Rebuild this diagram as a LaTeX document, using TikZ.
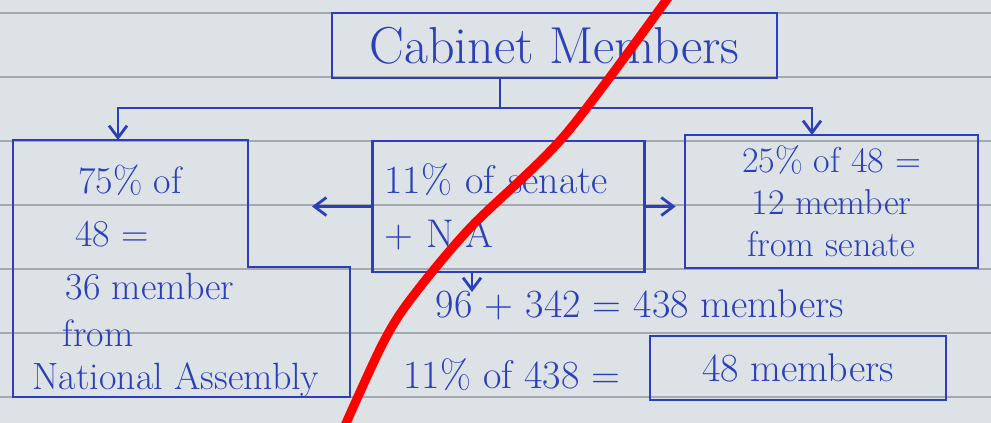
\documentclass[tikz,border=0pt]{standalone}
\usepackage{tikz}
\usetikzlibrary{arrows.meta}
\usepackage{xcolor}
\definecolor{ink}{HTML}{2B3FB8}
\definecolor{paper}{HTML}{DDE2E6}
\definecolor{rule}{HTML}{A3A9AE}
\tikzset{
  >={Straight Barb[length=6pt,width=9pt]},
  pen/.style={ink, line width=1.4pt},
  hand/.style={text=ink, inner sep=0pt, font=\fontsize{19}{22}\selectfont},
  box/.style={draw=ink, line width=1.4pt, inner sep=0pt}
}
\begin{document}
\begin{tikzpicture}[x=0.5pt, y=-0.5pt]
    \useasboundingbox (0,0) rectangle (991,423);
    \fill[paper] (0,0) rectangle (991,423);
    \foreach \y in {13,77,...,397}
        \draw[rule, line width=0.8pt] (0,\y) -- (991,\y);

    \node[box, hand, font=\fontsize{26}{30}\selectfont, minimum width=222.5pt, minimum height=32.5pt] (cab) at (554.5,45.5) {Cabinet Members};
    \node[box, hand, align=left, text width=124pt, inner xsep=6pt, minimum height=65.5pt, font=\fontsize{20}{27}\selectfont] (mid) at (508.5,206.5) {11\% of senate\\+ N$\cdot$A};
    \node[box, hand, align=center, minimum width=146.5pt, minimum height=66.5pt, font=\fontsize{18}{21}\selectfont] (rbox) at (831.5,201.5) {25\% of 48 =\\12 member\\from senate};
    \node[box, hand, font=\fontsize{20}{24}\selectfont, minimum width=148pt, minimum height=32pt] (ans) at (798,368) {48 members};

    \coordinate (lbox) at (13,140);
    \draw[pen] (lbox) -- (248,140) -- (248,267) -- (350,267) -- (350,397) -- (13,397) -- cycle;
    \node[hand] (l1) at (130,180) {75\% of};
    \node[hand] (l2) at (112,234) {48 =};
    \node[hand] (l3) at (150,287) {36 member};
    \node[hand] (l4) at (98,333) {from};
    \node[hand] (l5) at (176,380) {National Assembly};

    \node[hand, font=\fontsize{20}{24}\selectfont] (sum) at (640,305) {96 + 342 = 438 members};
    \node[hand, font=\fontsize{20}{24}\selectfont] (pct) at (512,375) {11\% of 438 =};

    \coordinate (junc) at (500,108);
    \coordinate (lt) at (118,140);
    \coordinate (rt) at (812,135);
    \coordinate (lend) at (312,206.5);
    \coordinate (dend) at (472,292);
    \draw[pen] (cab.south -| junc) -- (junc);
    \draw[pen, ->] (junc) -| (lt);
    \draw[pen, ->] (junc) -| (rt);
    \draw[pen, ->] (mid.west) -- (lend);
    \draw[pen, ->, shorten >=4pt] (mid.east) -- (mid.east -| rbox.west);
    \draw[pen, ->] (mid.south -| dend) -- (dend);

    \draw[red, line width=4.5pt, line cap=round] plot[smooth] coordinates {(670,-5) (565,135) (470,228) (410,300) (382,345) (343,430)};
\end{tikzpicture}
\end{document}
